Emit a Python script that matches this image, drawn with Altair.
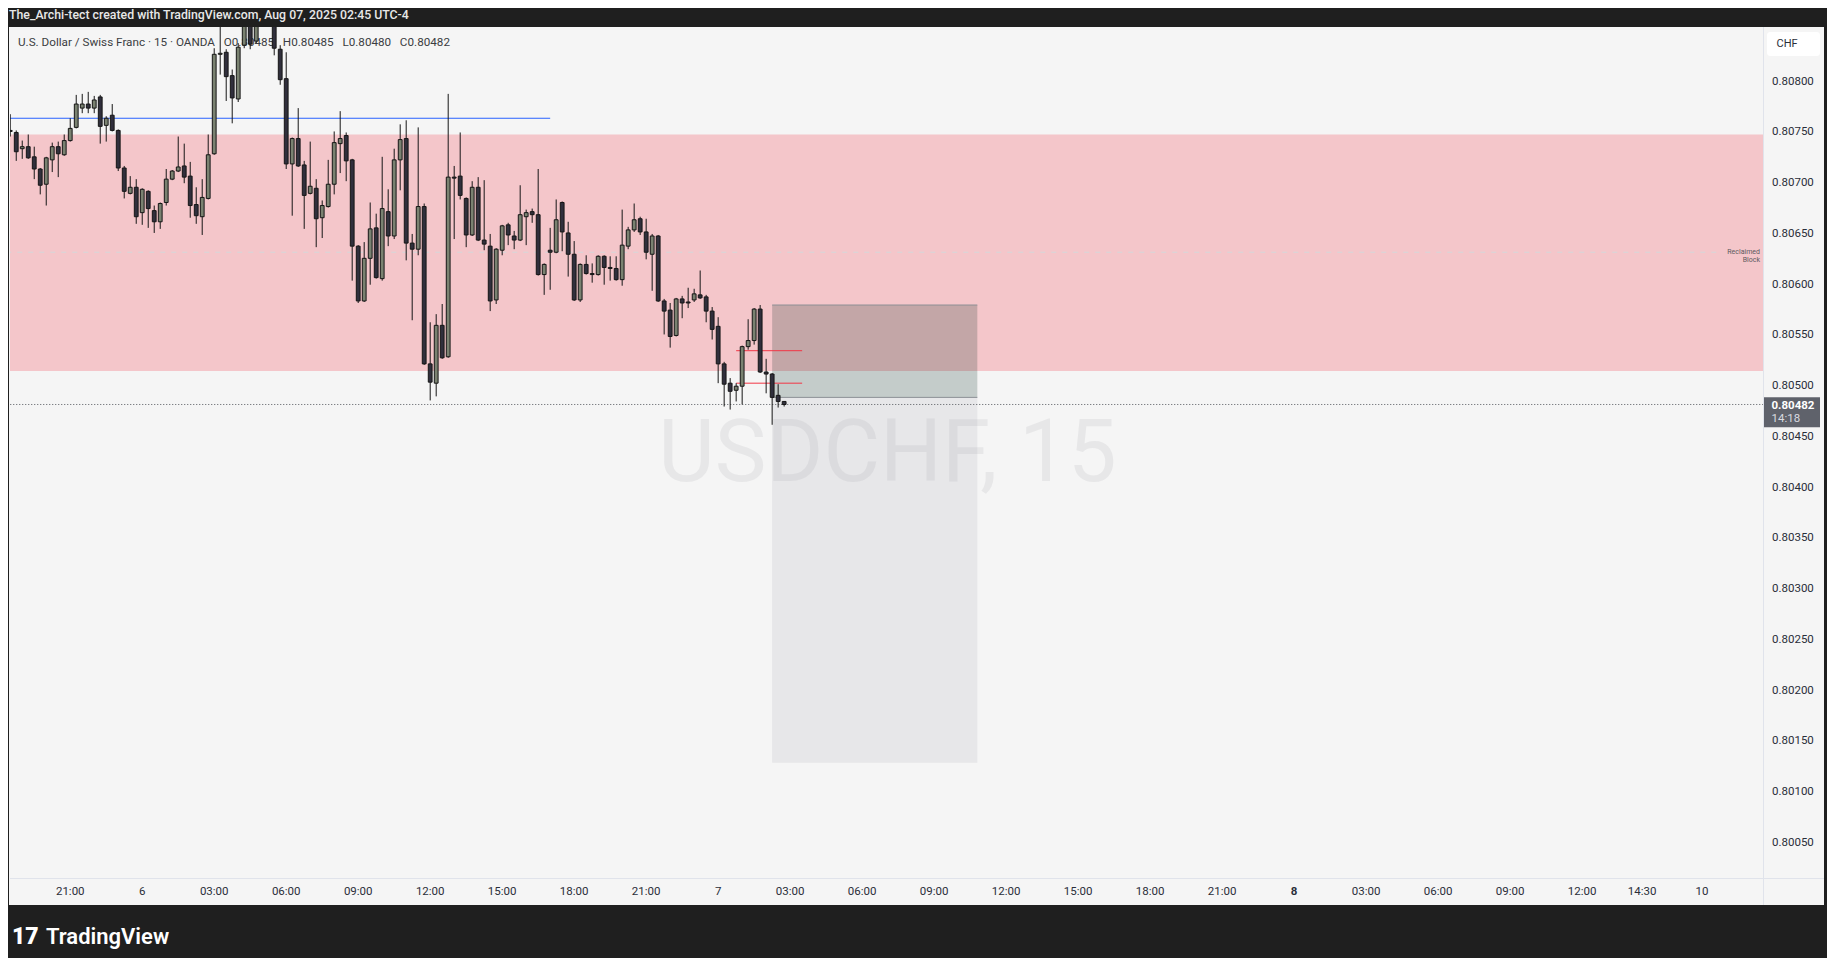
import altair as alt
import pandas as pd

# ---------------- data ----------------
# time axis: hours after Aug 5, 21:00 (UTC-4); bars are 15 minutes
FIRST_BAR_HOUR = -2.5
BAR_HOURS = 0.25
PT = 100000.0  # prices below are in points of 0.00001

open_pts = [80752, 80750, 80734, 80736, 80726, 80714, 80699, 80723, 80736, 80728,
            80742, 80755, 80774, 80778, 80774, 80785, 80757, 80767, 80752, 80715,
            80690, 80696, 80671, 80692, 80673, 80662, 80681, 80704, 80712, 80717,
            80707, 80679, 80667, 80685, 80729, 80827, 80829, 80806, 80783, 80836,
            80868, 80840, 80866, 80878, 80864, 80832, 80803, 80719, 80744, 80718,
            80690, 80695, 80666, 80677, 80699, 80739, 80747, 80723, 80638, 80584,
            80626, 80656, 80606, 80672, 80648, 80723, 80744, 80641, 80635, 80677,
            80522, 80503, 80560, 80529, 80706, 80707, 80685, 80649, 80696, 80644,
            80638, 80585, 80634, 80659, 80648, 80644, 80667, 80672, 80669, 80610,
            80634, 80632, 80681, 80651, 80630, 80585, 80620, 80611, 80610, 80628,
            80617, 80616, 80605, 80638, 80654, 80665, 80652, 80630, 80648, 80584,
            80575, 80550, 80586, 80583, 80585, 80590, 80588, 80574, 80559, 80522,
            80503, 80496, 80500, 80539, 80545, 80576, 80514, 80512, 80491, 80485]
high_pts = [80768, 80752, 80742, 80748, 80736, 80715, 80726, 80740, 80741, 80748,
            80764, 80787, 80788, 80790, 80786, 80787, 80766, 80778, 80753, 80717,
            80707, 80704, 80695, 80693, 80678, 80681, 80714, 80713, 80746, 80739,
            80721, 80696, 80704, 80748, 80833, 80862, 80832, 80812, 80838, 80880,
            80876, 80872, 80884, 80886, 80868, 80836, 80829, 80745, 80774, 80722,
            80741, 80704, 80683, 80723, 80751, 80771, 80750, 80724, 80639, 80642,
            80681, 80670, 80726, 80694, 80734, 80758, 80762, 80650, 80755, 80680,
            80563, 80571, 80581, 80788, 80717, 80750, 80686, 80702, 80706, 80703,
            80650, 80636, 80659, 80661, 80653, 80698, 80674, 80675, 80714, 80621,
            80656, 80684, 80682, 80662, 80643, 80621, 80629, 80621, 80629, 80629,
            80628, 80628, 80674, 80657, 80680, 80667, 80665, 80650, 80649, 80586,
            80582, 80587, 80589, 80597, 80596, 80614, 80590, 80578, 80568, 80524,
            80508, 80503, 80540, 80566, 80577, 80580, 80527, 80513, 80502, 80485]
low_pts = [80746, 80722, 80724, 80724, 80704, 80689, 80678, 80711, 80706, 80727,
           80741, 80754, 80769, 80769, 80769, 80739, 80741, 80751, 80712, 80685,
           80689, 80660, 80659, 80656, 80651, 80655, 80678, 80703, 80711, 80700,
           80666, 80660, 80649, 80684, 80728, 80807, 80781, 80759, 80780, 80833,
           80832, 80838, 80858, 80860, 80826, 80797, 80714, 80668, 80716, 80655,
           80689, 80637, 80646, 80676, 80689, 80710, 80702, 80604, 80582, 80583,
           80600, 80606, 80604, 80638, 80645, 80693, 80624, 80565, 80629, 80521,
           80486, 80490, 80527, 80528, 80645, 80684, 80637, 80648, 80643, 80634,
           80574, 80581, 80629, 80639, 80635, 80643, 80639, 80661, 80609, 80590,
           80595, 80631, 80633, 80608, 80584, 80583, 80610, 80602, 80609, 80600,
           80604, 80604, 80599, 80635, 80652, 80649, 80625, 80594, 80583, 80551,
           80538, 80549, 80567, 80577, 80583, 80586, 80563, 80546, 80503, 80480,
           80477, 80485, 80482, 80536, 80541, 80513, 80493, 80462, 80479, 80480]
close_pts = [80751, 80731, 80736, 80725, 80714, 80698, 80725, 80736, 80729, 80742,
             80754, 80778, 80778, 80774, 80782, 80756, 80764, 80752, 80715, 80692,
             80696, 80667, 80694, 80675, 80662, 80680, 80704, 80712, 80716, 80706,
             80678, 80668, 80686, 80728, 80827, 80828, 80805, 80784, 80834, 80870,
             80837, 80866, 80878, 80864, 80833, 80802, 80719, 80744, 80717, 80688,
             80697, 80665, 80678, 80699, 80740, 80744, 80722, 80638, 80584, 80626,
             80655, 80607, 80675, 80648, 80723, 80743, 80641, 80635, 80677, 80522,
             80504, 80560, 80528, 80706, 80705, 80688, 80649, 80696, 80644, 80640,
             80584, 80635, 80658, 80649, 80644, 80669, 80671, 80669, 80610, 80620,
             80632, 80664, 80652, 80630, 80585, 80620, 80611, 80610, 80628, 80617,
             80616, 80605, 80639, 80654, 80664, 80652, 80632, 80648, 80584, 80574,
             80549, 80586, 80582, 80582, 80591, 80587, 80574, 80556, 80522, 80502,
             80495, 80500, 80539, 80545, 80576, 80514, 80512, 80489, 80485, 80482]

# time axis ticks
tick_hours = [0, 3, 6, 9, 12, 15, 18, 21, 24, 27, 30, 33, 36, 39, 42, 45, 48,
              51, 54, 57, 60, 63, 65.5, 68]
tick_text = ["21:00", "6", "03:00", "06:00", "09:00", "12:00", "15:00", "18:00",
             "21:00", "7", "03:00", "06:00", "09:00", "12:00", "15:00", "18:00",
             "21:00", "8", "03:00", "06:00", "09:00", "12:00", "14:30", "10"]
tick_bold = ["8"]
price_ticks = [0.8005, 0.8010, 0.8015, 0.8020, 0.8025, 0.8030, 0.8035, 0.8040,
               0.8045, 0.8050, 0.8055, 0.8060, 0.8065, 0.8070, 0.8075, 0.8080]

# drawings
zone_low, zone_high, zone_mid = 0.80515, 0.80748, 0.80632
blue_level, blue_end = 0.80764, 20.0
pos_start, pos_end = 29.25, 37.8
pos_stop, pos_entry, pos_target = 0.80580, 0.80489, 0.80129
red_levels = [0.80535, 0.80503]
red_start, red_end = 27.75, 30.5
last_price = 0.80482

legend_text = ("U.S. Dollar / Swiss Franc \u00b7 15 \u00b7 OANDA\u00a0\u00a0\u00a0O0.80485"
               "\u00a0\u00a0\u00a0H0.80485\u00a0\u00a0\u00a0L0.80480\u00a0\u00a0\u00a0C0.80482")
header_text = "The_Archi-tect created with TradingView.com, Aug 07, 2025 02:45 UTC-4"

# ---------------- build ----------------
W, H = 1753, 851
x_dom = [-2.51, 70.54]
y_dom = [0.800155, 0.808539]
xs = alt.Scale(domain=x_dom, nice=False, zero=False, padding=0)
ys = alt.Scale(domain=y_dom, nice=False, zero=False, padding=0)
FONT = "Roboto"
LABEL_COLOR = "#2a2e39"

n = len(open_pts)
df = pd.DataFrame({
    "t": [FIRST_BAR_HOUR + BAR_HOURS * i for i in range(n)],
    "o": [v / PT for v in open_pts],
    "h": [v / PT for v in high_pts],
    "l": [v / PT for v in low_pts],
    "c": [v / PT for v in close_pts],
})
df["dir"] = ["up" if c >= o else "down" for o, c in zip(df.o, df.c)]


def X(field):
    return alt.X(field, type="quantitative", scale=xs, axis=None)


def Y(field):
    return alt.Y(field, type="quantitative", scale=ys, axis=None)


one = pd.DataFrame({"k": [0]})

pane = alt.Chart(one).mark_rect(fill="#f5f5f5").encode(
    x=alt.value(-1), x2=alt.value(1814), y=alt.value(0), y2=alt.value(878))

zone_df = pd.DataFrame({"t0": [-10.0], "t1": [80.0], "p0": [zone_low], "p1": [zone_high]})
zone = alt.Chart(zone_df).mark_rect(fill="#f4c6ca", clip=True).encode(
    x=X("t0"), x2="t1:Q", y=Y("p0"), y2="p1:Q")

mid_df = pd.DataFrame({"t0": [-10.0], "t1": [68.6], "p": [zone_mid]})
midline = alt.Chart(mid_df).mark_rule(stroke="#d5d7da", strokeWidth=1,
                                      strokeDash=[5, 6], clip=True).encode(
    x=X("t0"), x2="t1:Q", y=Y("p"))

zone_lbl_df = pd.DataFrame({"p": [zone_mid], "txt": ["Reclaimed\nBlock"]})
zone_lbl = alt.Chart(zone_lbl_df).mark_text(
    align="right", baseline="middle", fontSize=7, lineHeight=8, lineBreak="\n",
    font=FONT, color="#5d5a60").encode(x=alt.value(1750), y=Y("p"), text="txt:N")

watermark = alt.Chart(one).mark_text(
    text="USDCHF, 15", font=FONT, fontSize=87, color="#e7e7e8",
    align="center", baseline="alphabetic").encode(x=alt.value(W / 2 + 1), y=alt.value(454))

pos_df = pd.DataFrame({"t0": [pos_start, pos_start], "t1": [pos_end, pos_end],
                       "p0": [pos_target, pos_entry], "p1": [pos_entry, pos_stop],
                       "part": ["target", "stop"]})
pos_boxes = alt.Chart(pos_df).mark_rect(clip=True, opacity=0.2).encode(
    x=X("t0"), x2="t1:Q", y=Y("p0"), y2="p1:Q",
    fill=alt.Fill("part:N", scale=alt.Scale(domain=["target", "stop"],
                                            range=["#aeb0b8", "#00281f"]), legend=None))

pos_lines_df = pd.DataFrame({"t0": [pos_start, pos_start], "t1": [pos_end, pos_end],
                             "p": [pos_stop, pos_entry]})
pos_lines = alt.Chart(pos_lines_df).mark_rule(stroke="#8d9096", strokeWidth=1, clip=True).encode(
    x=X("t0"), x2="t1:Q", y=Y("p"))

red_df = pd.DataFrame({"t0": [red_start] * 2, "t1": [red_end] * 2, "p": red_levels})
red_lines = alt.Chart(red_df).mark_rule(stroke="#f23645", strokeWidth=1, clip=True).encode(
    x=X("t0"), x2="t1:Q", y=Y("p"))

blue_df = pd.DataFrame({"t0": [-10.0], "t1": [blue_end], "p": [blue_level]})
blue_line = alt.Chart(blue_df).mark_rule(stroke="#2962ff", strokeWidth=1, clip=True).encode(
    x=X("t0"), x2="t1:Q", y=Y("p"))

last_df = pd.DataFrame({"t0": [-10.0], "t1": [80.0], "p": [last_price]})
last_line = alt.Chart(last_df).mark_rule(stroke="#55585f", strokeWidth=1,
                                         strokeDash=[1, 2], clip=True).encode(
    x=X("t0"), x2="t1:Q", y=Y("p"))

legend = alt.Chart(one).mark_text(
    text=legend_text, font=FONT, fontSize=11.7, color="#3b3d42",
    align="left", baseline="middle").encode(x=alt.value(8), y=alt.value(14.7))

wicks = alt.Chart(df).mark_rule(stroke="#161616", strokeWidth=1, clip=True).encode(
    x=X("t"), y=Y("l"), y2="h:Q")

bodies = alt.Chart(df).mark_bar(orient="vertical", size=3.8, stroke="#161616",
                                strokeWidth=1, clip=True).encode(
    x=X("t"), y=Y("o"), y2="c:Q",
    fill=alt.Fill("dir:N", scale=alt.Scale(domain=["up", "down"],
                                           range=["#7a8271", "#302f3c"]), legend=None))

# axis labels (drawn as text through the shared scales)
xt_df = pd.DataFrame({"t": tick_hours, "txt": tick_text,
                      "bold": [s in tick_bold for s in tick_text]})
x_labels = alt.Chart(xt_df).transform_filter("!datum.bold").mark_text(
    font=FONT, fontSize=11.5, color=LABEL_COLOR, align="center", baseline="middle").encode(
    x=X("t"), y=alt.value(864.5), text="txt:N")
x_labels_b = alt.Chart(xt_df).transform_filter("datum.bold").mark_text(
    font=FONT, fontSize=11.5, fontWeight="bold", color=LABEL_COLOR, align="center",
    baseline="middle").encode(x=X("t"), y=alt.value(864.5), text="txt:N")

yt_df = pd.DataFrame({"p": price_ticks})
y_labels = alt.Chart(yt_df).transform_calculate(
    txt="format(datum.p, '.5f')").mark_text(
    font=FONT, fontSize=11.5, color=LABEL_COLOR, align="left", baseline="middle").encode(
    x=alt.value(1762), y=Y("p"), text="txt:N")

sep_h = alt.Chart(one).mark_rule(stroke="#e0e3eb", strokeWidth=1).encode(
    x=alt.value(0), x2=alt.value(1814), y=alt.value(851.5))
sep_v = alt.Chart(one).mark_rule(stroke="#e0e3eb", strokeWidth=1).encode(
    x=alt.value(1753.5), y=alt.value(0), y2=alt.value(878))

chf_box = alt.Chart(one).mark_rect(fill="#ffffff", cornerRadius=3).encode(
    x=alt.value(1757), x2=alt.value(1810), y=alt.value(5), y2=alt.value(29))
chf_txt = alt.Chart(one).mark_text(text="CHF", font=FONT, fontSize=11, color=LABEL_COLOR,
                                   align="left", baseline="middle").encode(
    x=alt.value(1766.5), y=alt.value(16.5))

price_box = alt.Chart(one).mark_rect(fill="#5f626b").encode(
    x=alt.value(1754), x2=alt.value(1810), y=alt.value(370.3), y2=alt.value(400.3))
price_txt = alt.Chart(one).mark_text(text="0.80482", font=FONT, fontSize=11.5,
                                     fontWeight="bold", color="#ffffff",
                                     align="left", baseline="middle").encode(
    x=alt.value(1761.5), y=alt.value(379))
timer_txt = alt.Chart(one).mark_text(text="14:18", font=FONT, fontSize=11.5,
                                     color="#d9dbe0", align="left", baseline="middle").encode(
    x=alt.value(1761.5), y=alt.value(392))

header = alt.Chart(one).mark_text(text=header_text, font=FONT, fontSize=12.3,
                                  fontWeight=500, color="#e8e8e8", align="left",
                                  baseline="middle").encode(
    x=alt.value(-1), y=alt.value(-12))
logo_mark = alt.Chart(one).mark_text(text="17", font=FONT, fontSize=23, fontWeight=900,
                                     color="#ffffff", align="left",
                                     baseline="alphabetic").encode(
    x=alt.value(2), y=alt.value(916.5))
logo_txt = alt.Chart(one).mark_text(text="TradingView", font=FONT, fontSize=22,
                                    fontWeight=600, color="#ffffff", align="left",
                                    baseline="alphabetic").encode(
    x=alt.value(36), y=alt.value(916.5))

chart = alt.layer(
    pane, zone, midline, zone_lbl, watermark, pos_boxes, pos_lines, red_lines,
    blue_line, last_line, legend, wicks, bodies, sep_h, sep_v, x_labels, x_labels_b,
    y_labels, chf_box, chf_txt, price_box, price_txt, timer_txt, header, logo_mark,
    logo_txt
).resolve_scale(fill="independent").properties(
    width=W, height=H,
    autosize=alt.AutoSizeParams(type="none"),
    padding={"left": 2, "top": 19, "right": 64, "bottom": 80},
    background="#1f1f1f",
).configure_view(strokeWidth=0, fill="#f5f5f5")

chart.save("out.html", embed_options={"renderer": "svg", "actions": False})
